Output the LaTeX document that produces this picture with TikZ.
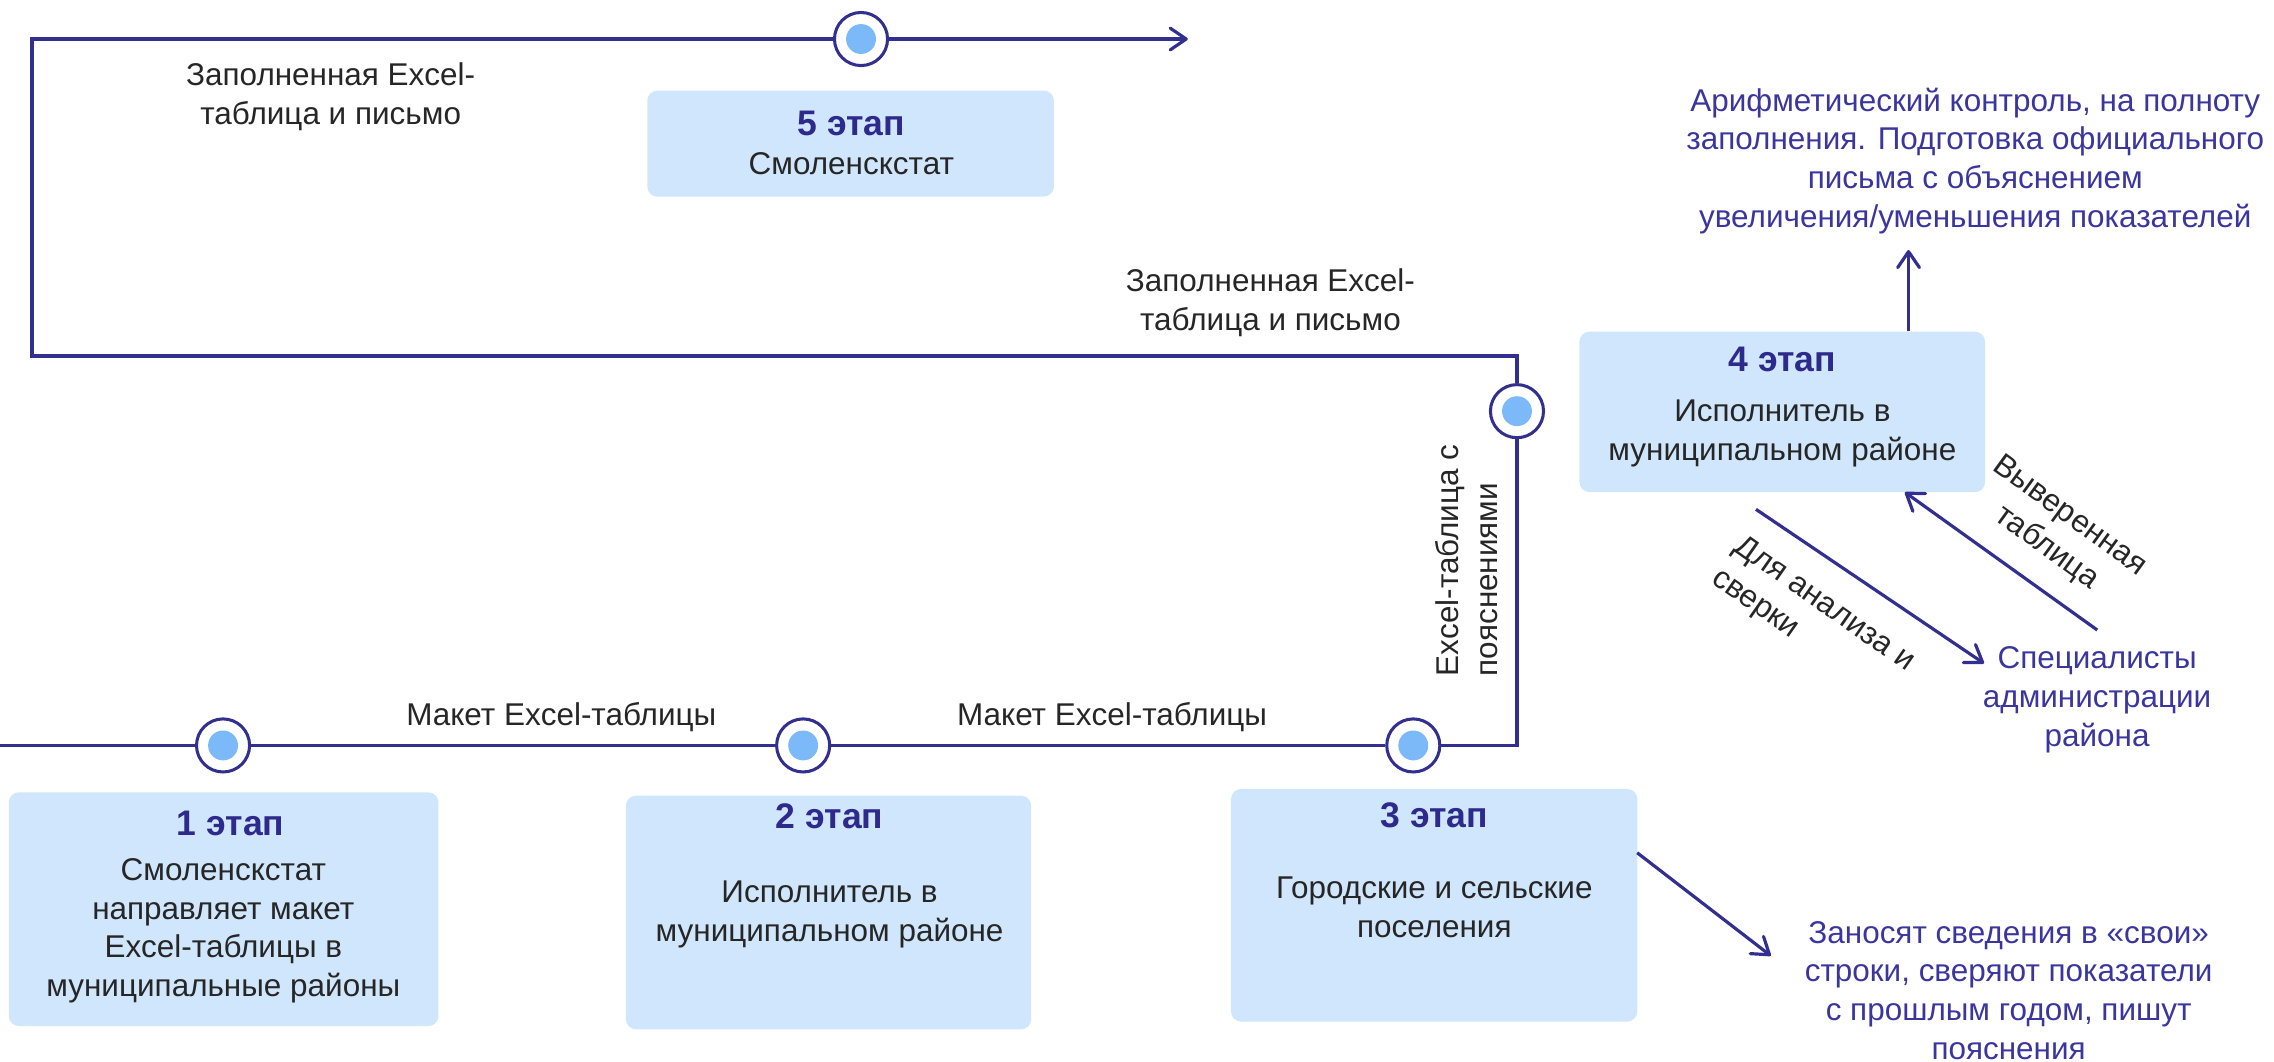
\documentclass[tikz,border=0pt]{standalone}
\usepackage{fontspec}
\setmainfont{Liberation Sans}
\usetikzlibrary{arrows.meta}
\definecolor{lineblue}{RGB}{51,47,143}
\definecolor{headblue}{RGB}{46,42,140}
\definecolor{noteblue}{RGB}{58,54,158}
\definecolor{boxblue}{RGB}{208,230,252}
\definecolor{dotblue}{RGB}{124,185,248}
\definecolor{bodygray}{RGB}{38,38,38}
\newcommand\txtfnt{\fontsize{21.7}{26.8}\selectfont}
\newcommand\hdfnt{\bfseries\fontsize{24.5}{28}\selectfont}
\tikzset{
  conn/.style={draw=lineblue, line width=2.2pt, line join=miter},
  arr/.style={conn, -{Straight Barb[length=11pt,width=15pt,round]}},
  stagebox/.style={fill=boxblue, rounded corners=7pt, draw=none, inner sep=0pt},
  stop/.style={circle, draw=lineblue, line width=2.1pt, fill=white, minimum size=36.6pt, inner sep=0pt,
    path picture={\fill[dotblue] (path picture bounding box.center) circle (10.3pt);}},
  head/.style={font=\hdfnt, text=headblue, inner sep=0pt},
  body/.style={font=\txtfnt, text=bodygray, align=center, inner sep=0pt},
  note/.style={font=\txtfnt, text=noteblue, align=center, inner sep=0pt},
}
\begin{document}
\begin{tikzpicture}[x=1pt,y=-1pt]
\useasboundingbox (0,0) rectangle (1568,732);

% stage boxes
\node[stagebox, minimum width=280.4pt, minimum height=73.1pt] (b5) at (586.5,99) {};
\node[head] (h5) at (587,85) {5 этап};
\node[body] (t5) at (587,113) {Смоленскстат};

\node[stagebox, minimum width=296.3pt, minimum height=161.2pt] (b1) at (154.2,626.9) {};
\node[head] (h1) at (159,568) {1 этап};
\node[body] (t1) at (154,641.8) {Смоленскстат\\направляет макет\\Excel-таблицы в\\муниципальные районы};

\node[stagebox, minimum width=279.5pt, minimum height=161.1pt] (b2) at (571.3,629.2) {};
\node[head] (h2) at (572,563) {2 этап};
\node[body] (t2) at (572,630.5) {Исполнитель в\\муниципальном районе};

\node[stagebox, minimum width=280.2pt, minimum height=160.4pt] (b3) at (988.9,624.2) {};
\node[head] (h3) at (989,562) {3 этап};
\node[body] (t3) at (989,625.8) {Городские и сельские\\поселения};

\node[stagebox, minimum width=279.7pt, minimum height=110.7pt] (b4) at (1228.9,284) {};
\node[head] (h4) at (1229,248) {4 этап};
\node[body] (t4) at (1229,298.8) {Исполнитель в\\муниципальном районе};

% route
\coordinate (s0) at (0,514);
\coordinate (k1) at (1046,514);
\coordinate (k2) at (1046,245.5);
\coordinate (k3) at (22,245.5);
\coordinate (k4) at (22,26.9);
\coordinate (e5) at (819,26.9);
\node[stop] (c1) at (153.8,514) {};
\node[stop] (c2) at (553.8,514) {};
\node[stop] (c3) at (974.5,514) {};
\node[stop] (c4) at (1046,283.5) {};
\node[stop] (c5) at (593.7,26.9) {};

\draw[conn] (s0) -- (c1);
\draw[conn] (c1) -- (c2);
\draw[conn] (c2) -- (c3);
\draw[conn] (c3) -- (k1) -- (c4);
\draw[conn] (c4) -- (k2) -- (k3) -- (k4) -- (c5);
\draw[arr] (c5) -- (e5);

% route labels
\node[body] (l1) at (228,66.7) {Заполненная Excel-\\таблица и письмо};
\node[body] (l2) at (876,208.5) {Заполненная Excel-\\таблица и письмо};
\node[body] (l3) at (387,494.2) {Макет Excel-таблицы};
\node[body] (l4) at (766.8,494.2) {Макет Excel-таблицы};
\node[body, align=left, rotate=90] (l5) at (1011,386.5) {Excel-таблица с\\пояснениями};

% notes
\node[note] (arith) at (1362,111) {Арифметический контроль, на полноту\\заполнения. Подготовка официального\\письма с объяснением\\увеличения/уменьшения показателей};
\node[note] (spec) at (1446,482.5) {Специалисты\\администрации\\района};
\node[note] (zan) at (1385,683) {Заносят сведения в «свои»\\строки, сверяют показатели\\с прошлым годом, пишут\\пояснения};

% side arrows
\coordinate (up) at (1316,172.4);
\draw[arr] (b4.north -| up) -- (up);

\coordinate (d1) at (1210.8,351.2);
\coordinate (d2) at (1368,457.4);
\draw[arr] (d1) -- (d2);
\node[body, align=left, rotate=-35] (l6) at (1250,428) {Для анализа и\\сверки};

\coordinate (v1) at (1446.1,434.4);
\coordinate (v2) at (1313.5,339.4);
\draw[arr] (v1) -- (v2);
\node[body, rotate=-36] (l7) at (1419,367) {Выверенная\\таблица};

\coordinate (z1) at (1128.9,588);
\coordinate (z2) at (1221,659);
\draw[arr] (z1) -- (z2);
\end{tikzpicture}
\end{document}
